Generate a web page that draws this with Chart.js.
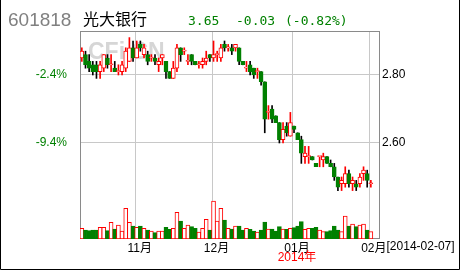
<!DOCTYPE html>
<html>
<head>
<meta charset="utf-8">
<script src="https://cdn.jsdelivr.net/npm/chart.js@4"></script>
<style>
  body { margin: 0; background: #fff; }
  #box { position: relative; width: 460px; height: 270px; }
  #box canvas { display: block; }
  #box span { position: absolute; white-space: pre; }
  .code { left: 8px; top: 10px; font: 19px/19px "Liberation Sans", sans-serif; color: #808080; }
  .name { left: 83px; top: 10px; font: 16px/16px "Noto Sans CJK SC", sans-serif; color: #000; }
  .quote { top: 14px; font: 13px/13px "DejaVu Sans Mono", monospace; color: #008000; }
</style>
</head>
<body>
<div id="box">
  <canvas id="myChart" width="460" height="270"></canvas>
  <span class="code">601818</span>
  <span class="name">光大银行</span>
  <span class="quote" style="left:188px">3.65</span>
  <span class="quote" style="left:236px">-0.03</span>
  <span class="quote" style="left:285px">(-0.82%)</span>
</div>
<script>
const dates = [
  "2013-10-11", "2013-10-14", "2013-10-15", "2013-10-16", "2013-10-17", "2013-10-18",
  "2013-10-21", "2013-10-22", "2013-10-23", "2013-10-24", "2013-10-25",
  "2013-10-28", "2013-10-29", "2013-10-30", "2013-10-31",
  "2013-11-01", "2013-11-04", "2013-11-05", "2013-11-06", "2013-11-07", "2013-11-08",
  "2013-11-11", "2013-11-12", "2013-11-13", "2013-11-14", "2013-11-15",
  "2013-11-18", "2013-11-19", "2013-11-20", "2013-11-21", "2013-11-22",
  "2013-11-25", "2013-11-26", "2013-11-27", "2013-11-28", "2013-11-29",
  "2013-12-02", "2013-12-03", "2013-12-04", "2013-12-05", "2013-12-06",
  "2013-12-09", "2013-12-10", "2013-12-11", "2013-12-12", "2013-12-13",
  "2013-12-16", "2013-12-17", "2013-12-18", "2013-12-19", "2013-12-20",
  "2013-12-23", "2013-12-24", "2013-12-25", "2013-12-26", "2013-12-27",
  "2013-12-30", "2013-12-31",
  "2014-01-02", "2014-01-03", "2014-01-06", "2014-01-07", "2014-01-08", "2014-01-09", "2014-01-10",
  "2014-01-13", "2014-01-14", "2014-01-15", "2014-01-16", "2014-01-17",
  "2014-01-20", "2014-01-21", "2014-01-22", "2014-01-23", "2014-01-24",
  "2014-01-27", "2014-01-28", "2014-01-29", "2014-01-30",
  "2014-02-07"
];
const opens = [
  2.85, 2.86, 2.84, 2.83, 2.83, 2.81, 2.82, 2.85, 2.83, 2.82,
  2.81, 2.81, 2.82, 2.84, 2.88, 2.85, 2.89, 2.86, 2.86, 2.85,
  2.85, 2.83, 2.85, 2.84, 2.81, 2.79, 2.82, 2.88, 2.87, 2.84,
  2.86, 2.84, 2.83, 2.83, 2.84, 2.86, 2.85, 2.86, 2.85, 2.89,
  2.88, 2.88, 2.88, 2.88, 2.84, 2.82, 2.83, 2.82, 2.81, 2.81,
  2.78, 2.69, 2.70, 2.68, 2.66, 2.61, 2.65, 2.62, 2.65, 2.63,
  2.61, 2.56, 2.56, 2.56, 2.54, 2.56, 2.55, 2.56, 2.54, 2.53,
  2.50, 2.48, 2.48, 2.51, 2.48, 2.48, 2.48, 2.51, 2.51, 2.48
];
const highs = [
  2.88, 2.87, 2.86, 2.84, 2.84, 2.84, 2.86, 2.86, 2.86, 2.84,
  2.83, 2.84, 2.88, 2.91, 2.90, 2.90, 2.90, 2.89, 2.87, 2.86,
  2.86, 2.85, 2.86, 2.84, 2.81, 2.84, 2.89, 2.88, 2.88, 2.86,
  2.86, 2.84, 2.84, 2.85, 2.87, 2.86, 2.90, 2.87, 2.89, 2.90,
  2.89, 2.89, 2.89, 2.88, 2.84, 2.84, 2.84, 2.82, 2.82, 2.81,
  2.78, 2.71, 2.71, 2.68, 2.66, 2.66, 2.66, 2.69, 2.65, 2.63,
  2.62, 2.59, 2.59, 2.56, 2.54, 2.56, 2.57, 2.56, 2.55, 2.54,
  2.50, 2.50, 2.53, 2.52, 2.50, 2.49, 2.51, 2.53, 2.52, 2.49
];
const lows = [
  2.84, 2.82, 2.81, 2.80, 2.79, 2.79, 2.81, 2.82, 2.81, 2.81,
  2.80, 2.80, 2.81, 2.84, 2.84, 2.85, 2.87, 2.85, 2.83, 2.84,
  2.83, 2.81, 2.83, 2.79, 2.79, 2.79, 2.81, 2.84, 2.86, 2.83,
  2.83, 2.83, 2.82, 2.82, 2.83, 2.84, 2.84, 2.84, 2.84, 2.87,
  2.87, 2.86, 2.87, 2.83, 2.83, 2.81, 2.80, 2.79, 2.79, 2.77,
  2.63, 2.67, 2.66, 2.66, 2.60, 2.60, 2.62, 2.62, 2.63, 2.61,
  2.54, 2.54, 2.54, 2.55, 2.53, 2.53, 2.53, 2.54, 2.53, 2.49,
  2.46, 2.46, 2.47, 2.47, 2.46, 2.46, 2.47, 2.49, 2.47, 2.47
];
const closes = [
  2.87, 2.83, 2.82, 2.81, 2.81, 2.83, 2.86, 2.83, 2.83, 2.81,
  2.81, 2.83, 2.87, 2.88, 2.85, 2.88, 2.88, 2.88, 2.84, 2.85,
  2.84, 2.84, 2.86, 2.81, 2.79, 2.82, 2.88, 2.86, 2.87, 2.84,
  2.84, 2.83, 2.83, 2.84, 2.85, 2.85, 2.86, 2.86, 2.88, 2.88,
  2.88, 2.87, 2.89, 2.84, 2.83, 2.82, 2.81, 2.80, 2.81, 2.78,
  2.67, 2.69, 2.67, 2.66, 2.61, 2.64, 2.63, 2.66, 2.64, 2.61,
  2.57, 2.57, 2.56, 2.55, 2.53, 2.56, 2.56, 2.54, 2.53, 2.50,
  2.47, 2.49, 2.51, 2.48, 2.49, 2.47, 2.50, 2.52, 2.49, 2.48
];
const volumes = [
  107, 90, 83, 90, 90, 117, 117, 83, 167, 100,
  140, 80, 307, 167, 130, 117, 130, 107, 90, 80,
  63, 80, 80, 117, 97, 107, 267, 180, 107, 140,
  123, 107, 70, 107, 197, 90, 380, 180, 307, 190,
  107, 100, 130, 130, 90, 107, 97, 80, 70, 90,
  170, 100, 100, 80, 123, 100, 97, 107, 113, 130,
  173, 97, 107, 107, 117, 90, 73, 73, 83, 130,
  90, 73, 230, 130, 150, 123, 140, 150, 90, 73
];
const priceTicks = [2.6, 2.8];

const RED = "#ff0000";
const GREEN = "#008000";
const GRID = "#c8c8c8";
const priceMin = 2.3176;
const priceMax = 2.9294;
const base = closes[0];
const up = closes.map((c, i) => c >= opens[i]);
const labelShift = 3;

function monthLabel(i) {
  if (typeof i !== "number" || i <= 0 || i >= dates.length) return null;
  const m = dates[i].slice(5, 7);
  return m !== dates[i - 1].slice(5, 7) ? m + "月" : null;
}

Chart.defaults.font.family = "'Liberation Sans', 'Noto Sans CJK SC', sans-serif";
Chart.defaults.font.size = 12;

const extras = {
  id: "extras",
  beforeDatasetsDraw(chart) {
    const { ctx, chartArea: a } = chart;
    const x = chart.scales.x;
    ctx.save();
    // month separators on the left edge of each month's first day
    ctx.strokeStyle = GRID;
    ctx.lineWidth = 1;
    const half = (x.getPixelForValue(1) - x.getPixelForValue(0)) / 2;
    dates.forEach((d, i) => {
      if (!monthLabel(i)) return;
      const px = Math.round(x.getPixelForValue(i) - half) + 0.5;
      ctx.beginPath();
      ctx.moveTo(px, a.top);
      ctx.lineTo(px, a.bottom);
      ctx.stroke();
    });
    ctx.fillStyle = "#d6d6d6";
    ctx.font = "bold 23px 'Liberation Sans'";
    ctx.fillText("CFi.CN", 88, 59);
    ctx.strokeStyle = "#8a8a8a";
    ctx.strokeRect(a.left + 0.5, a.top + 0.5, a.width - 1, a.height - 1);
    ctx.restore();
  },
  afterDraw(chart) {
    const { ctx } = chart;
    const x = chart.scales.x;
    ctx.save();
    ctx.font = "12px 'Liberation Sans', 'Noto Sans CJK SC'";
    ctx.textBaseline = "top";
    // year under the first month of the new year
    const jan = dates.findIndex((d, i) => i > 0 && d.slice(0, 4) !== dates[i - 1].slice(0, 4));
    ctx.fillStyle = RED;
    ctx.textAlign = "center";
    ctx.fillText(dates[jan].slice(0, 4) + "年", x.getPixelForValue(jan) + labelShift, 252);
    // last date after the last month label
    const last = dates.length - 1;
    const w = ctx.measureText(monthLabel(last)).width;
    ctx.fillStyle = "#000";
    ctx.textAlign = "left";
    ctx.fillText("[" + dates[last] + "]", x.getPixelForValue(last) + labelShift + w / 2, 239 + 2);
    // outer frame
    ctx.strokeStyle = "#000";
    ctx.beginPath();
    ctx.moveTo(0.5, 0);
    ctx.lineTo(0.5, 269.5);
    ctx.lineTo(459.5, 269.5);
    ctx.lineTo(459.5, 0);
    ctx.stroke();
    ctx.restore();
  }
};

const config = {
  type: "bar",
  data: {
    labels: dates.concat(["", ""]),
    datasets: [
      {
        data: opens.map((o, i) => [o, closes[i]]),
        yAxisID: "y",
        grouped: false,
        barThickness: 4,
        minBarLength: 1,
        borderWidth: 1,
        borderSkipped: false,
        backgroundColor: up.map(u => (u ? "#fff" : GREEN)),
        borderColor: up.map(u => (u ? RED : GREEN)),
        order: 0,
      },
      {
        data: lows.map((l, i) => [l, highs[i]]),
        yAxisID: "y",
        grouped: false,
        barThickness: 1,
        borderWidth: 0,
        backgroundColor: up.map(u => (u ? RED : "#000")),
        order: 1,
      },
      {
        data: volumes,
        yAxisID: "yVol",
        grouped: false,
        barThickness: 4,
        borderWidth: 1,
        borderSkipped: false,
        backgroundColor: up.map(u => (u ? "#fff" : GREEN)),
        borderColor: up.map(u => (u ? RED : GREEN)),
        order: 2,
      },
    ],
  },
  options: {
    responsive: false,
    animation: false,
    layout: { padding: { top: 31 } },
    plugins: { legend: { display: false }, tooltip: { enabled: false } },
    scales: {
      x: {
        offset: true,
        grid: { display: false, drawTicks: false },
        border: { display: false },
        ticks: {
          autoSkip: false,
          maxRotation: 0,
          padding: 2,
          labelOffset: labelShift,
          color: "#000",
          callback: (value, index) => monthLabel(index),
        },
        afterFit: scale => { scale.height = 31; },
      },
      yPct: {
        position: "left",
        min: (priceMin / base - 1) * 100,
        max: (priceMax / base - 1) * 100,
        grid: { display: false, drawTicks: false },
        border: { display: false },
        afterBuildTicks: scale => {
          scale.ticks = priceTicks.map(p => ({ value: (p / base - 1) * 100 }));
        },
        ticks: { color: GREEN, padding: 13, callback: v => v.toFixed(1) + "%" },
        afterFit: scale => { scale.width = 80; },
      },
      y: {
        position: "right",
        min: priceMin,
        max: priceMax,
        grid: { color: GRID, drawTicks: false },
        border: { display: false },
        afterBuildTicks: scale => {
          scale.ticks = priceTicks.map(v => ({ value: v }));
        },
        ticks: { color: "#000", padding: 2, callback: v => v.toFixed(2) },
        afterFit: scale => { scale.width = 80; },
      },
      yVol: { display: false, min: 0, max: 2080 },
    },
  },
  plugins: [extras],
};

let myChart = new Chart(document.getElementById("myChart"), config);
</script>
</body>
</html>
